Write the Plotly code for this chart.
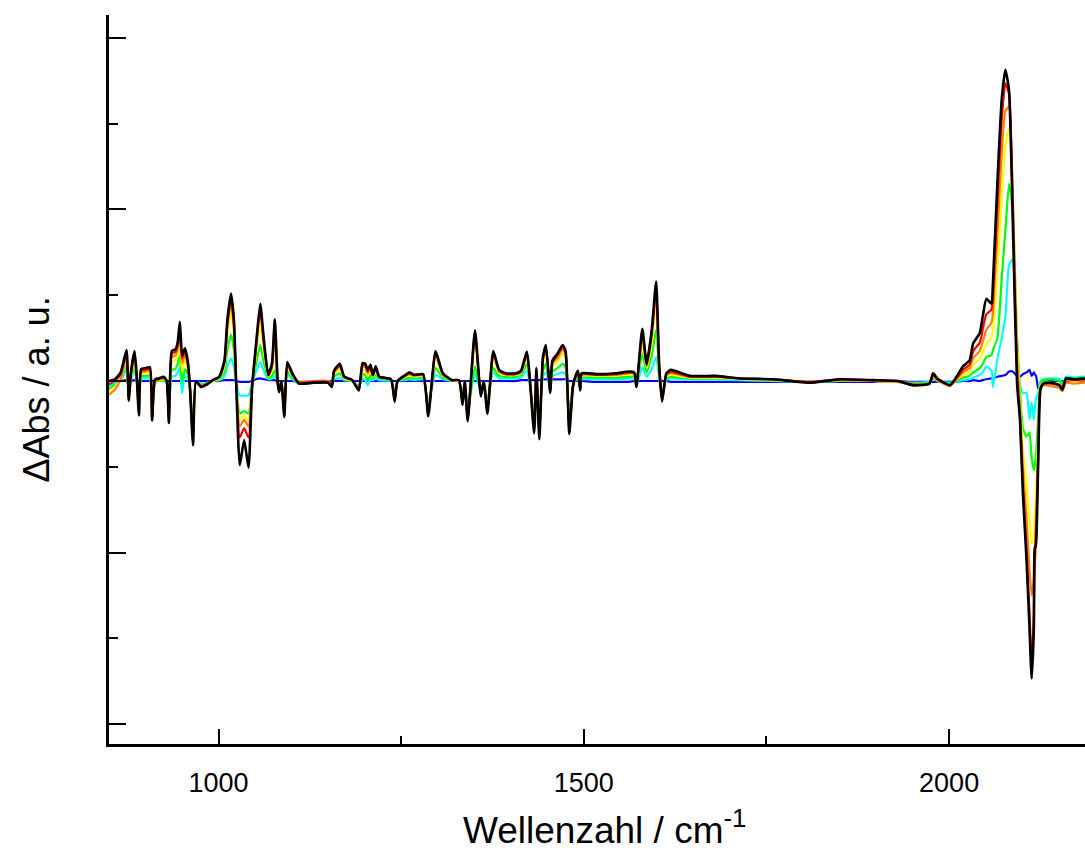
import plotly.graph_objects as go

# Wavenumber grid (cm^-1) shared by all difference spectra
wavenumber = [
    850, 858, 866, 874, 877, 880, 885, 888, 891, 894, 900, 906, 909, 913, 918, 925, 929, 932, 936, 941,
    944, 947, 950, 954, 958, 961, 965, 969, 976, 984, 992, 1001, 1008, 1012, 1017, 1021, 1024, 1029, 1035, 1041,
    1046, 1051, 1057, 1062, 1068, 1073, 1077, 1081, 1083, 1086, 1090, 1094, 1101, 1110, 1130, 1150, 1155, 1158, 1166, 1172,
    1183, 1192, 1197, 1201, 1204, 1208, 1211, 1215, 1220, 1236, 1241, 1245, 1256, 1261, 1268, 1280, 1287, 1297, 1307, 1320,
    1329, 1334, 1337, 1341, 1351, 1359, 1363, 1368, 1376, 1384, 1393, 1407, 1414, 1422, 1432, 1435, 1439, 1444, 1448, 1454,
    1457, 1464, 1471, 1475, 1480, 1485, 1489, 1492, 1495, 1497, 1517, 1544, 1562, 1569, 1572, 1580, 1586, 1593, 1599, 1603,
    1607, 1613, 1619, 1645, 1681, 1713, 1759, 1809, 1850, 1896, 1930, 1950, 1973, 1978, 1984, 2001, 2008, 2019, 2028, 2033,
    2042, 2046, 2051, 2058, 2060, 2066, 2072, 2077, 2082, 2087, 2093, 2097, 2101, 2106, 2110, 2113, 2116, 2117, 2119, 2122,
    2125, 2129, 2140, 2151, 2155, 2160, 2170, 2186,
]

# Delta absorbance of each spectrum in the series (blue = earliest, black = latest)
abs_blue = [
    0.0, 0.0, 0.0, 0.01, 0.0, 0.0, 0.01, 0.0, 0.0, 0.0, 0.0, 0.0, 0.0, 0.0, 0.0, 0.0, 0.0, 0.0, 0.0, 0.0,
    0.0, 0.0, 0.0, 0.0, 0.0, 0.0, 0.0, 0.0, 0.0, 0.0, 0.0, 0.0, 0.01, 0.01, 0.01, 0.01, 0.0, -0.01, -0.01, -0.01,
    0.0, 0.02, 0.03, 0.02, 0.01, 0.01, 0.01, 0.0, 0.0, 0.0, 0.0, 0.0, 0.0, -0.01, -0.01, -0.01, 0.0, 0.0, 0.0, 0.0,
    0.0, 0.0, 0.0, 0.0, 0.0, 0.0, 0.0, 0.0, 0.0, 0.0, 0.0, 0.0, 0.0, 0.0, 0.0, 0.0, 0.0, 0.0, 0.0, 0.0,
    0.0, 0.0, 0.0, 0.0, 0.0, 0.0, 0.0, 0.0, 0.0, 0.0, 0.0, 0.0, 0.01, 0.01, 0.01, 0.01, 0.01, 0.02, 0.02, 0.02,
    0.02, 0.02, 0.02, 0.02, 0.0, 0.0, 0.0, 0.0, 0.0, 0.0, -0.01, -0.01, -0.01, 0.0, 0.0, 0.0, 0.0, 0.0, 0.0, 0.0,
    0.0, 0.0, -0.01, -0.01, -0.01, -0.01, -0.01, -0.01, -0.01, -0.01, 0.0, -0.01, -0.01, -0.01, -0.01, -0.01, -0.01, 0.0, 0.0, 0.01,
    0.0, 0.01, 0.02, 0.03, 0.03, 0.05, 0.06, 0.07, 0.11, 0.11, 0.06, 0.05, 0.08, 0.1, 0.13, 0.06, 0.1, 0.08, 0.06, -0.09,
    -0.03, 0.0, 0.0, 0.0, 0.0, 0.0, 0.0, 0.0,
]

abs_cyan = [
    -0.06, -0.03, 0.0, 0.14, -0.14, 0.02, 0.12, 0.0, -0.26, 0.03, 0.03, 0.03, -0.32, -0.01, 0.0, 0.0, -0.02, -0.34, 0.05, 0.06,
    0.1, 0.15, -0.14, 0.06, 0.03, -0.1, -0.48, -0.01, -0.03, -0.02, 0.0, 0.01, 0.05, 0.17, 0.26, 0.17, -0.02, -0.17, -0.17, -0.17,
    -0.02, 0.1, 0.22, 0.12, 0.02, 0.03, 0.05, -0.01, -0.06, 0.0, -0.24, 0.07, 0.02, -0.03, -0.02, -0.02, -0.04, 0.02, 0.03, 0.01,
    0.0, -0.06, 0.02, 0.01, -0.05, 0.02, 0.01, 0.03, 0.01, 0.0, -0.15, 0.0, 0.01, 0.02, 0.01, 0.02, -0.25, 0.07, 0.02, 0.0,
    0.0, -0.16, 0.0, -0.3, 0.08, -0.1, 0.0, -0.23, 0.1, 0.03, 0.03, 0.03, 0.04, 0.12, -0.38, 0.04, -0.42, 0.06, 0.1, -0.08,
    0.06, 0.08, 0.1, 0.08, -0.38, -0.05, 0.01, 0.02, -0.06, 0.02, 0.02, 0.02, 0.03, 0.03, -0.05, 0.16, 0.05, 0.14, 0.28, 0.04,
    -0.15, 0.01, 0.03, 0.02, 0.02, 0.01, 0.0, -0.01, 0.0, 0.0, -0.01, -0.02, -0.01, 0.03, 0.0, -0.02, -0.01, 0.01, 0.02, 0.04,
    0.07, 0.1, 0.17, 0.12, -0.07, 0.25, 0.5, 0.75, 1.35, 1.42, 0.25, -0.05, -0.14, -0.14, -0.45, -0.25, -0.45, -0.35, -0.2, -0.14,
    0.0, 0.02, 0.03, 0.02, -0.04, 0.05, 0.04, 0.05,
]

abs_green = [
    -0.09, -0.05, 0.01, 0.2, -0.17, 0.04, 0.19, 0.01, -0.3, 0.05, 0.06, 0.06, -0.36, -0.01, 0.0, 0.01, -0.01, -0.38, 0.13, 0.14,
    0.2, 0.3, -0.02, 0.14, 0.08, -0.1, -0.55, -0.01, -0.04, -0.03, 0.0, 0.02, 0.11, 0.36, 0.54, 0.36, -0.02, -0.38, -0.35, -0.38,
    -0.04, 0.19, 0.42, 0.22, 0.03, 0.06, 0.12, -0.02, -0.08, 0.0, -0.3, 0.11, 0.04, -0.03, -0.02, -0.02, -0.05, 0.05, 0.09, 0.02,
    0.0, -0.08, 0.08, 0.07, 0.01, 0.07, 0.03, 0.07, 0.03, 0.01, -0.18, 0.0, 0.03, 0.04, 0.03, 0.04, -0.3, 0.15, 0.04, 0.0,
    0.0, -0.2, 0.0, -0.35, 0.17, -0.13, 0.0, -0.28, 0.15, 0.06, 0.05, 0.05, 0.07, 0.19, -0.45, 0.07, -0.5, 0.12, 0.2, -0.1,
    0.11, 0.15, 0.2, 0.16, -0.45, -0.06, 0.02, 0.05, -0.08, 0.04, 0.04, 0.04, 0.05, 0.05, -0.06, 0.32, 0.1, 0.3, 0.6, 0.09,
    -0.18, 0.03, 0.05, 0.03, 0.03, 0.02, 0.01, -0.01, 0.0, 0.0, -0.01, -0.03, -0.02, 0.04, 0.0, -0.04, -0.01, 0.04, 0.06, 0.1,
    0.15, 0.2, 0.28, 0.3, 0.36, 0.5, 1.2, 1.75, 2.3, 2.0, 0.5, -0.1, -0.55, -0.65, -0.6, -0.9, -1.04, -1.0, -0.85, -0.4,
    -0.02, 0.01, 0.02, 0.0, -0.06, 0.04, 0.03, 0.04,
]

abs_yellow = [
    -0.12, -0.07, 0.02, 0.25, -0.19, 0.05, 0.25, 0.02, -0.34, 0.08, 0.09, 0.09, -0.4, 0.0, 0.01, 0.02, -0.01, -0.42, 0.22, 0.24,
    0.3, 0.45, 0.12, 0.24, 0.13, -0.1, -0.62, -0.01, -0.05, -0.03, 0.0, 0.03, 0.17, 0.55, 0.81, 0.55, -0.01, -0.45, -0.4, -0.45,
    -0.04, 0.3, 0.67, 0.35, 0.05, 0.12, 0.45, -0.03, -0.1, 0.0, -0.35, 0.16, 0.06, -0.02, -0.01, -0.01, -0.05, 0.08, 0.14, 0.03,
    0.0, -0.09, 0.14, 0.13, 0.06, 0.12, 0.05, 0.11, 0.04, 0.02, -0.2, 0.0, 0.05, 0.06, 0.05, 0.06, -0.34, 0.27, 0.06, 0.01,
    0.0, -0.23, 0.0, -0.4, 0.45, -0.15, 0.0, -0.32, 0.27, 0.09, 0.07, 0.07, 0.09, 0.27, -0.5, 0.1, -0.56, 0.2, 0.32, -0.12,
    0.17, 0.23, 0.32, 0.26, -0.51, -0.06, 0.04, 0.08, -0.09, 0.06, 0.06, 0.06, 0.08, 0.07, -0.06, 0.47, 0.15, 0.46, 0.92, 0.15,
    -0.2, 0.05, 0.07, 0.04, 0.04, 0.02, 0.01, -0.01, 0.01, 0.0, -0.01, -0.04, -0.03, 0.05, 0.01, -0.05, 0.0, 0.07, 0.11, 0.19,
    0.26, 0.33, 0.44, 0.5, 0.6, 1.25, 2.15, 2.75, 2.95, 2.2, 0.4, -0.2, -0.8, -1.2, -1.6, -1.9, -1.8, -1.6, -1.3, -0.6,
    -0.05, -0.02, -0.02, -0.04, -0.09, 0.01, 0.0, 0.01,
]

abs_orange = [
    -0.16, -0.1, 0.02, 0.3, -0.2, 0.07, 0.3, 0.03, -0.36, 0.1, 0.11, 0.12, -0.42, 0.0, 0.02, 0.03, -0.01, -0.45, 0.28, 0.3,
    0.37, 0.55, 0.21, 0.3, 0.17, -0.1, -0.68, -0.01, -0.05, -0.03, 0.01, 0.04, 0.2, 0.62, 0.91, 0.62, 0.0, -0.53, -0.45, -0.53,
    -0.05, 0.35, 0.81, 0.42, 0.06, 0.15, 0.6, -0.03, -0.11, 0.0, -0.38, 0.19, 0.07, -0.01, 0.0, 0.0, -0.05, 0.1, 0.17, 0.04,
    0.01, -0.1, 0.17, 0.16, 0.09, 0.15, 0.06, 0.13, 0.04, 0.02, -0.22, 0.0, 0.06, 0.08, 0.06, 0.07, -0.37, 0.31, 0.07, 0.01,
    0.01, -0.25, 0.0, -0.43, 0.53, -0.16, 0.0, -0.34, 0.31, 0.11, 0.08, 0.08, 0.1, 0.3, -0.55, 0.12, -0.62, 0.24, 0.37, -0.13,
    0.2, 0.27, 0.37, 0.31, -0.56, -0.07, 0.05, 0.1, -0.1, 0.07, 0.07, 0.07, 0.09, 0.09, -0.07, 0.54, 0.17, 0.52, 1.04, 0.17,
    -0.22, 0.07, 0.09, 0.05, 0.05, 0.03, 0.02, -0.01, 0.01, 0.0, -0.01, -0.05, -0.04, 0.06, 0.01, -0.06, 0.0, 0.1, 0.15, 0.27,
    0.35, 0.46, 0.6, 0.68, 0.8, 1.7, 2.65, 3.15, 3.2, 2.2, 0.3, -0.3, -1.0, -1.6, -2.2, -2.5, -2.3, -2.0, -1.6, -0.8,
    -0.08, -0.05, -0.06, -0.08, -0.12, -0.02, -0.03, -0.02,
]

abs_red = [
    -0.04, 0.0, 0.08, 0.33, -0.22, 0.09, 0.33, 0.04, -0.38, 0.12, 0.13, 0.14, -0.44, 0.01, 0.02, 0.04, 0.0, -0.47, 0.32, 0.34,
    0.42, 0.62, 0.26, 0.35, 0.2, -0.1, -0.72, -0.01, -0.06, -0.04, 0.01, 0.05, 0.22, 0.67, 0.97, 0.67, 0.0, -0.66, -0.55, -0.66,
    -0.05, 0.38, 0.85, 0.45, 0.07, 0.18, 0.68, -0.03, -0.12, 0.0, -0.4, 0.21, 0.08, -0.02, -0.01, -0.01, -0.06, 0.11, 0.18, 0.05,
    0.01, -0.1, 0.19, 0.18, 0.11, 0.17, 0.07, 0.15, 0.05, 0.02, -0.23, 0.0, 0.07, 0.09, 0.07, 0.08, -0.39, 0.33, 0.08, 0.01,
    0.01, -0.27, 0.0, -0.45, 0.57, -0.17, 0.0, -0.36, 0.34, 0.12, 0.08, 0.08, 0.11, 0.32, -0.58, 0.14, -0.65, 0.26, 0.4, -0.13,
    0.22, 0.3, 0.4, 0.33, -0.59, -0.07, 0.06, 0.11, -0.1, 0.08, 0.07, 0.08, 0.1, 0.09, -0.07, 0.58, 0.19, 0.56, 1.1, 0.19,
    -0.23, 0.08, 0.11, 0.05, 0.05, 0.03, 0.02, -0.01, 0.02, 0.01, 0.0, -0.04, -0.03, 0.07, 0.02, -0.05, 0.01, 0.13, 0.19, 0.35,
    0.45, 0.6, 0.78, 0.83, 1.0, 2.05, 3.05, 3.47, 3.35, 2.1, 0.1, -0.4, -1.2, -1.95, -2.7, -3.3, -2.7, -2.2, -1.8, -0.85,
    -0.08, -0.03, -0.03, -0.05, -0.1, 0.02, 0.01, 0.02,
]

abs_black = [
    0.0, 0.02, 0.1, 0.36, -0.23, 0.1, 0.35, 0.05, -0.4, 0.14, 0.15, 0.16, -0.46, 0.02, 0.03, 0.05, 0.0, -0.49, 0.35, 0.37,
    0.45, 0.69, 0.3, 0.38, 0.22, -0.1, -0.75, 0.0, -0.07, -0.04, 0.01, 0.05, 0.24, 0.71, 1.02, 0.71, 0.0, -0.98, -0.69, -1.01,
    -0.05, 0.4, 0.9, 0.48, 0.07, 0.2, 0.72, -0.03, -0.13, 0.0, -0.42, 0.22, 0.09, -0.03, -0.02, -0.02, -0.07, 0.12, 0.2, 0.05,
    0.01, -0.11, 0.21, 0.2, 0.13, 0.19, 0.07, 0.17, 0.05, 0.02, -0.24, 0.0, 0.07, 0.1, 0.07, 0.08, -0.41, 0.35, 0.09, 0.01,
    0.01, -0.28, 0.0, -0.47, 0.59, -0.18, 0.0, -0.38, 0.35, 0.13, 0.09, 0.09, 0.12, 0.34, -0.61, 0.15, -0.68, 0.28, 0.42, -0.14,
    0.24, 0.32, 0.42, 0.35, -0.62, -0.07, 0.07, 0.12, -0.11, 0.09, 0.08, 0.09, 0.11, 0.1, -0.07, 0.61, 0.2, 0.6, 1.16, 0.2,
    -0.24, 0.09, 0.13, 0.06, 0.06, 0.03, 0.02, -0.02, 0.02, 0.01, 0.0, -0.05, -0.03, 0.09, 0.03, -0.05, 0.02, 0.17, 0.24, 0.44,
    0.56, 0.75, 0.96, 0.9, 1.14, 2.3, 3.28, 3.63, 3.39, 1.92, -0.03, -0.45, -1.31, -2.09, -2.87, -3.47, -2.87, -1.97, -1.9, -0.92,
    -0.1, -0.03, -0.02, -0.05, -0.1, 0.03, 0.02, 0.03,
]

series = [
    (abs_blue, "#0000ff", 2.2),
    (abs_cyan, "#00ffff", 2.2),
    (abs_green, "#00ff00", 2.2),
    (abs_yellow, "#ffff00", 2.2),
    (abs_orange, "#ff8000", 2.2),
    (abs_red, "#ff0000", 2.2),
    (abs_black, "#000000", 2.6),
]

fig = go.Figure()
for values, color, width in series:
    fig.add_trace(go.Scatter(
        x=wavenumber, y=values, mode="lines",
        line=dict(color=color, width=width, shape="spline", smoothing=0.5),
        showlegend=False, hoverinfo="skip",
    ))

label_font = "Liberation Sans, Arial, sans-serif"

fig.update_layout(
    width=1085, height=850,
    margin=dict(l=109, r=0, t=15, b=106),
    paper_bgcolor="white", plot_bgcolor="white",
    font=dict(family=label_font, color="black"),
    xaxis=dict(
        range=[850, 2186], showgrid=False, zeroline=False,
        showline=True, linecolor="black", linewidth=3,
        ticks="inside", ticklen=15, tickwidth=2, tickcolor="black",
        tick0=0, dtick=500, tickfont=dict(size=27, family=label_font),
        ticklabelstandoff=13,
        minor=dict(ticks="inside", ticklen=8, tickwidth=2, tickcolor="black", dtick=250, tick0=0),
    ),
    yaxis=dict(
        range=[-4.233, 4.268], showgrid=False, zeroline=False,
        showline=True, linecolor="black", linewidth=3,
        ticks="inside", ticklen=17, tickwidth=2, tickcolor="black",
        tick0=0, dtick=2, showticklabels=False,
        minor=dict(ticks="inside", ticklen=9, tickwidth=2, tickcolor="black", dtick=1, tick0=0),
    ),
    annotations=[
        dict(text="Wellenzahl / cm<sup>-1</sup>", xref="paper", yref="paper",
             x=0.508, y=-0.15, xanchor="center", yanchor="bottom", showarrow=False,
             font=dict(size=37, family=label_font)),
        dict(text="ΔAbs / a. u.", xref="paper", yref="paper", textangle=-90,
             x=-0.074, y=0.486, xanchor="center", yanchor="middle", showarrow=False,
             font=dict(size=36, family=label_font)),
    ],
)

fig.write_html("out.html")
